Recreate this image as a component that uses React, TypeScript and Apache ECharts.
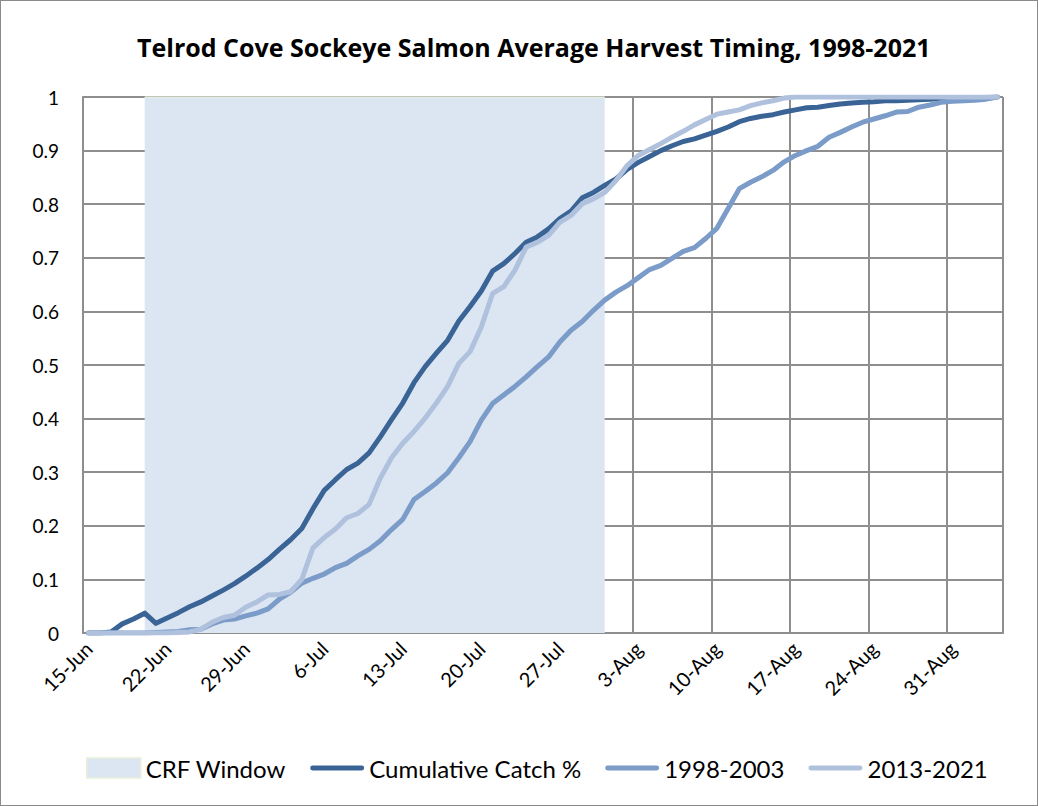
import React, { useEffect, useRef } from "react";
import * as echarts from "echarts";

const dates: string[] = [
  "15-Jun","16-Jun","17-Jun","18-Jun","19-Jun","20-Jun","21-Jun","22-Jun","23-Jun","24-Jun","25-Jun","26-Jun","27-Jun","28-Jun","29-Jun","30-Jun",
  "1-Jul","2-Jul","3-Jul","4-Jul","5-Jul","6-Jul","7-Jul","8-Jul","9-Jul","10-Jul","11-Jul","12-Jul","13-Jul","14-Jul","15-Jul","16-Jul",
  "17-Jul","18-Jul","19-Jul","20-Jul","21-Jul","22-Jul","23-Jul","24-Jul","25-Jul","26-Jul","27-Jul","28-Jul","29-Jul","30-Jul","31-Jul",
  "1-Aug","2-Aug","3-Aug","4-Aug","5-Aug","6-Aug","7-Aug","8-Aug","9-Aug","10-Aug","11-Aug","12-Aug","13-Aug","14-Aug","15-Aug","16-Aug",
  "17-Aug","18-Aug","19-Aug","20-Aug","21-Aug","22-Aug","23-Aug","24-Aug","25-Aug","26-Aug","27-Aug","28-Aug","29-Aug","30-Aug","31-Aug",
  "1-Sep","2-Sep","3-Sep","4-Sep",
];

const crfWindow: [string, string] = ["20-Jun", "31-Jul"];
const crfHeight = 1;

const cumulativeCatch: number[] = [
  0, 0, 0.002, 0.017, 0.026, 0.037, 0.018, 0.028, 0.038, 0.049,
  0.058, 0.069, 0.08, 0.092, 0.106, 0.121, 0.137, 0.156, 0.174, 0.195,
  0.232, 0.266, 0.286, 0.305, 0.317, 0.336, 0.366, 0.398, 0.429, 0.467,
  0.497, 0.522, 0.546, 0.582, 0.609, 0.638, 0.675, 0.689, 0.708, 0.729,
  0.739, 0.754, 0.773, 0.787, 0.812, 0.822, 0.835, 0.847, 0.865, 0.878,
  0.889, 0.9, 0.909, 0.917, 0.922, 0.929, 0.936, 0.944, 0.954, 0.96,
  0.964, 0.967, 0.972, 0.976, 0.98, 0.981, 0.984, 0.987, 0.989, 0.99,
  0.991, 0.993, 0.993, 0.994, 0.995, 0.996, 0.997, 0.998, 0.998, 0.999,
  0.999, 1,
];

const years1998to2003: number[] = [
  0, 0, 0, 0, 0, 0, 0.001, 0.002, 0.003, 0.006,
  0.007, 0.017, 0.024, 0.026, 0.032, 0.037, 0.045, 0.063, 0.076, 0.093,
  0.102, 0.11, 0.122, 0.13, 0.144, 0.156, 0.172, 0.193, 0.212, 0.249,
  0.264, 0.28, 0.299, 0.327, 0.357, 0.397, 0.428, 0.444, 0.46, 0.478,
  0.497, 0.515, 0.543, 0.565, 0.581, 0.602, 0.621, 0.636, 0.648, 0.663,
  0.678, 0.686, 0.699, 0.712, 0.719, 0.736, 0.755, 0.792, 0.829, 0.841,
  0.851, 0.863, 0.879, 0.891, 0.9, 0.908, 0.925, 0.934, 0.944, 0.953,
  0.959, 0.965, 0.972, 0.973, 0.981, 0.985, 0.99, 0.992, 0.993, 0.994,
  0.996, 1,
];

const years2013to2021: number[] = [
  0, 0, 0, 0, 0, 0, 0, 0, 0.001, 0.002,
  0.007, 0.02, 0.029, 0.033, 0.048, 0.058, 0.071, 0.072, 0.077, 0.1,
  0.159, 0.178, 0.194, 0.215, 0.223, 0.24, 0.289, 0.327, 0.354, 0.376,
  0.401, 0.429, 0.46, 0.503, 0.525, 0.571, 0.633, 0.646, 0.677, 0.72,
  0.729, 0.742, 0.766, 0.779, 0.801, 0.81, 0.822, 0.844, 0.872, 0.891,
  0.902, 0.913, 0.925, 0.936, 0.948, 0.958, 0.968, 0.972, 0.976, 0.984,
  0.989, 0.993, 0.998, 1, 1, 1, 1, 1, 1, 1,
  1, 1, 1, 1, 1, 1, 1, 1, 1, 1,
  1, 1,
];

const FONT = "Lato";
const DARK = "#3A6496";
const MID = "#7B9BC8";
const LIGHT = "#AFC1DD";
const WINDOW_FILL = "#DCE6F2";
const WINDOW_EDGE = "#E8EEDA";
const GRID = "#8E8E8E";
const LINE_ICON = "path://M2.5,0 H52.5 A2.5,2.5 0 0 1 52.5,5 H2.5 A2.5,2.5 0 0 1 2.5,0 Z";

export default function App() {
  const ref = useRef<HTMLDivElement>(null);

  useEffect(() => {
    document.body.style.margin = "0";
    if (!ref.current) return;
    const chart = echarts.init(ref.current, undefined, { renderer: "svg" });

    const startIdx = dates.indexOf(crfWindow[0]);
    const endIdx = dates.indexOf(crfWindow[1]);
    const windowValues = dates.map((_, i) => (i >= startIdx && i <= endIdx ? crfHeight : null));

    const lineSeries = (name: string, data: number[], color: string) => ({
      name,
      type: "line",
      data,
      symbol: "none",
      showSymbol: false,
      lineStyle: { color, width: 5, cap: "round", join: "round" },
      itemStyle: { color },
      z: 3,
    });

    chart.setOption({
      animation: false,
      backgroundColor: "#ffffff",
      title: {
        text: "Telrod Cove Sockeye Salmon Average Harvest Timing, 1998-2021",
        left: 131,
        top: 28,
        textStyle: { fontFamily: "Open Sans", fontWeight: "bold", fontSize: 25, color: "#000" },
      },
      grid: { left: 82, right: 34, top: 96, bottom: 172 },
      legend: {
        left: 80,
        top: 750,
        itemGap: 24,
        itemWidth: 54,
        itemHeight: 20,
        symbolKeepAspect: true,
        textStyle: { fontFamily: FONT, fontSize: 24, color: "#000" },
        data: [
          {
            name: "CRF Window",
            icon: "rect",
            itemStyle: { color: WINDOW_FILL, borderColor: WINDOW_EDGE, borderWidth: 1.5 },
          },
          { name: "Cumulative Catch %", icon: LINE_ICON, itemStyle: { color: DARK } },
          { name: "1998-2003", icon: LINE_ICON, itemStyle: { color: MID } },
          { name: "2013-2021", icon: LINE_ICON, itemStyle: { color: LIGHT } },
        ],
      },
      xAxis: {
        type: "category",
        data: dates,
        boundaryGap: true,
        axisLine: { show: true, lineStyle: { color: GRID, width: 2 } },
        axisTick: { show: false },
        axisLabel: {
          interval: 6,
          rotate: 45,
          margin: 12,
          fontFamily: FONT,
          fontSize: 20,
          color: "#000",
        },
        splitLine: { show: true, interval: 6, lineStyle: { color: GRID, width: 2 } },
      },
      yAxis: {
        type: "value",
        min: 0,
        max: 1,
        interval: 0.1,
        axisLine: { show: true, lineStyle: { color: GRID, width: 2 } },
        axisTick: { show: false },
        axisLabel: { fontFamily: FONT, fontSize: 19, color: "#000", margin: 24 },
        splitLine: { show: true, lineStyle: { color: GRID, width: 2 } },
      },
      series: [
        {
          name: "CRF Window",
          type: "line",
          data: windowValues,
          symbol: "none",
          showSymbol: false,
          connectNulls: false,
          lineStyle: { color: WINDOW_EDGE, width: 1.5 },
          itemStyle: { color: WINDOW_FILL },
          areaStyle: { color: WINDOW_FILL, opacity: 1 },
          z: 1,
        },
        lineSeries("Cumulative Catch %", cumulativeCatch, DARK),
        lineSeries("1998-2003", years1998to2003, MID),
        lineSeries("2013-2021", years2013to2021, LIGHT),
      ],
    });

    return () => chart.dispose();
  }, []);

  return (
    <div
      style={{
        width: 1038,
        height: 806,
        boxSizing: "border-box",
        border: "1px solid #8a8a8a",
        background: "#fff",
      }}
    >
      <div ref={ref} style={{ width: 1036, height: 804 }} />
    </div>
  );
}
